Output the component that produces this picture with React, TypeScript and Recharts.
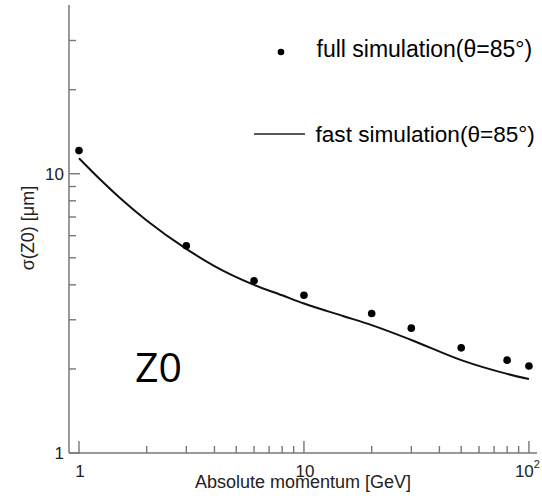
import React from 'react';
import { ComposedChart, Line, Scatter, XAxis, YAxis, Legend } from 'recharts';

// full simulation (points)
const fullMomentum = [1, 3, 6, 10, 20, 30, 50, 80, 100];
const fullSigma = [12.1, 5.52, 4.14, 3.67, 3.16, 2.8, 2.38, 2.15, 2.05];

// fast simulation (curve)
const fastMomentum = [1, 1.25, 1.5, 2, 3, 4, 6, 8, 10, 15, 20, 30, 50, 80, 100];
const fastSigma = [11.36, 9.49, 8.27, 6.8, 5.38, 4.67, 4.0, 3.67, 3.43, 3.09, 2.87, 2.54, 2.15, 1.92, 1.84];

const xTicks = [1, 2, 3, 4, 5, 6, 7, 8, 9, 10, 20, 30, 40, 50, 60, 70, 80, 90, 100];
const xMajor = [1, 10, 100];
const yTicks = [1, 2, 3, 4, 5, 6, 7, 8, 9, 10, 20, 30];
const yMajor = [1, 10];

const legendFull = 'full simulation(\u03B8=85\u00B0)';
const legendFast = 'fast simulation(\u03B8=85\u00B0)';
const xTitle = 'Absolute momentum [GeV]';
const yTitle = '\u03C3(Z0) [\u03BCm]';
const annotation = 'Z0';

const fullData = fullMomentum.map((x, i) => ({ x, y: fullSigma[i] }));
const fastData = fastMomentum.map((x, i) => ({ x, y: fastSigma[i] }));

const AXIS = '#777777';
const FONT = '"Liberation Sans", Arial, sans-serif';
const xDomain = [0.903, 108.6];
const yDomain = [1, 40.2];

const XTick = (props: any) => {
  const { x, y, payload } = props;
  const v = payload.value;
  const major = xMajor.includes(v);
  let label: any = null;
  if (v === 100) {
    label = (
      <text y={y + 24} fontSize={17} fill="#222" fontFamily={FONT}>
        <tspan x={x + 11} textAnchor="end">10</tspan>
        <tspan fontSize={11} dy={-9}>2</tspan>
      </text>
    );
  } else if (major) {
    label = (
      <text x={x + 1} y={y + 24} fontSize={17} fill="#222" textAnchor="middle" fontFamily={FONT}>
        {String(v)}
      </text>
    );
  }
  return (
    <g>
      <line x1={x} x2={x} y1={y} y2={y - (major ? 12 : 7)} stroke={AXIS} strokeWidth={1.4} />
      {label}
    </g>
  );
};

const YTick = (props: any) => {
  const { x, y, payload } = props;
  const v = payload.value;
  const major = yMajor.includes(v);
  return (
    <g>
      <line x1={x} x2={x + (major ? 11 : 7)} y1={y} y2={y} stroke={AXIS} strokeWidth={1.4} />
      {major ? (
        <text x={x - 5} y={y + 6} fontSize={17} fill="#222" textAnchor="end" fontFamily={FONT}>
          {String(v)}
        </text>
      ) : null}
    </g>
  );
};

const renderLegend = () => (
  <svg width={542} height={496} style={{ position: 'absolute', left: 0, top: 0 }}>
    <circle cx={281} cy={52} r={3.3} fill="#000" />
    <text x={316.5} y={57} fontSize={23} fill="#000" fontFamily={FONT}>{legendFull}</text>
    <line x1={254} x2={305} y1={134} y2={134} stroke="#222" strokeWidth={1.5} />
    <text x={315.5} y={142} fontSize={22.6} fill="#000" fontFamily={FONT}>{legendFast}</text>
    <text x={135} y={381.5} fontSize={41} fill="#000" fontFamily='"Open Sans", "Noto Sans", sans-serif'>{annotation}</text>
  </svg>
);

const Dot = (props: any) => <circle cx={props.cx} cy={props.cy} r={3.8} fill="#000" />;

export default function App() {
  return (
    <div style={{ position: 'absolute', left: 0, top: 0, width: 542, height: 496, background: '#fff' }}>
      <ComposedChart width={542} height={496} margin={{ top: 5, right: 5, bottom: 0, left: 0 }}>
        <XAxis
          xAxisId="b"
          type="number"
          dataKey="x"
          scale="log"
          domain={xDomain}
          allowDataOverflow
          ticks={xTicks}
          interval={0}
          tickSize={0}
          tickMargin={0}
          tickLine={false}
          tick={<XTick />}
          axisLine={{ stroke: AXIS, strokeWidth: 1.5 }}
          height={43}
          label={{ value: xTitle, position: 'insideBottom', offset: 8, fontSize: 18, fill: '#222', fontFamily: FONT }}
        />
        <XAxis
          xAxisId="t"
          orientation="top"
          type="number"
          dataKey="x"
          scale="log"
          domain={xDomain}
          allowDataOverflow
          tick={false}
          tickLine={false}
          axisLine={{ stroke: AXIS, strokeWidth: 1.5 }}
          height={0}
        />
        <YAxis
          yAxisId="l"
          type="number"
          dataKey="y"
          scale="log"
          domain={yDomain}
          allowDataOverflow
          ticks={yTicks}
          interval={0}
          tickSize={0}
          tickMargin={0}
          tickLine={false}
          tick={<YTick />}
          axisLine={{ stroke: AXIS, strokeWidth: 1.5 }}
          width={69}
          label={{
            content: (p: any) => {
              const vb = p.viewBox || { x: 0, y: 5, width: 69, height: 448 };
              const cx = vb.x + 34;
              const cy = vb.y + vb.height / 2 - 1;
              return (
                <text
                  x={cx}
                  y={cy}
                  transform={`rotate(-90, ${cx}, ${cy})`}
                  textAnchor="middle"
                  fontSize={18}
                  fill="#222"
                  fontFamily={FONT}
                >
                  {yTitle}
                </text>
              );
            },
          }}
        />
        <YAxis
          yAxisId="r"
          orientation="right"
          type="number"
          scale="log"
          domain={yDomain}
          allowDataOverflow
          tick={false}
          tickLine={false}
          axisLine={{ stroke: AXIS, strokeWidth: 1.5 }}
          width={0}
        />
        <Line
          xAxisId="b"
          yAxisId="l"
          data={fastData}
          dataKey="y"
          type="monotone"
          stroke="#111"
          strokeWidth={2}
          dot={false}
          isAnimationActive={false}
          name={legendFast}
        />
        <Scatter
          xAxisId="b"
          yAxisId="l"
          data={fullData}
          dataKey="y"
          shape={<Dot />}
          isAnimationActive={false}
          name={legendFull}
        />
        <Legend
          layout="horizontal"
          verticalAlign="middle"
          align="center"
          wrapperStyle={{ left: 0, top: 0, width: 542, height: 496, pointerEvents: 'none' }}
          content={renderLegend}
        />
      </ComposedChart>
    </div>
  );
}
